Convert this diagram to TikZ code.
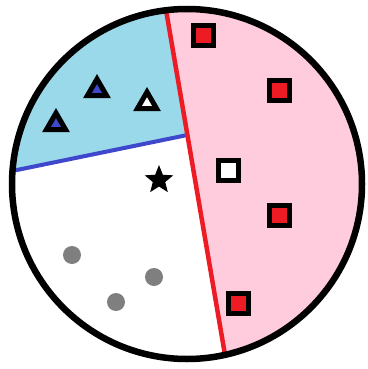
\documentclass[tikz,border=0pt]{standalone}
\usepackage{xcolor}
\usepackage{tikz}
\usetikzlibrary{shapes.geometric}

\definecolor{zonepink}{RGB}{255,204,221}
\definecolor{zoneblue}{RGB}{153,217,234}
\definecolor{markred}{RGB}{237,28,36}
\definecolor{markblue}{RGB}{63,72,204}
\definecolor{markgray}{RGB}{127,127,127}

\begin{document}
\begin{tikzpicture}[
    x=1pt, y=-1pt,
    every node/.style={inner sep=0pt, line width=5pt},
    redbox/.style={rectangle, draw, fill=markred, minimum size=20pt},
    tri/.style={regular polygon, regular polygon sides=3, draw, fill=markblue, minimum size=22pt},
    dot/.style={circle, fill=markgray, minimum size=18pt},
  ]

  \useasboundingbox (0,0) rectangle (367,369);

  \coordinate (o) at (187,184);
  \coordinate (rtop) at (160.9,-20);
  \coordinate (rbot) at (231,390);
  \coordinate (bleft) at (-20,177.6);
  \coordinate (bmid) at (187.4,135);

  % zones
  \begin{scope}
    \clip (o) circle (175);
    \fill[zonepink] (rtop) -- (400,-20) -- (400,390) -- (rbot) -- cycle;
    \fill[zoneblue] (bleft) -- (bmid) -- (rtop) -- (-20,-20) -- cycle;
    \draw[markblue, line width=4pt] (bleft) -- (bmid);
    \draw[markred, line width=4.5pt] (rtop) -- (rbot);
  \end{scope}
  \draw[line width=6.5pt] (o) circle (175);

  % squares
  \node[redbox] (s1) at (203,36)  {};
  \node[redbox] (s2) at (279,90)  {};
  \node[redbox, fill=white] (s3) at (228,170) {};
  \node[redbox] (s4) at (279,215) {};
  \node[redbox] (s5) at (238,303) {};

  % triangles
  \node[tri] (t1) at (56,124)  {};
  \node[tri] (t2) at (97,90)   {};
  \node[tri, fill=white] (t3) at (147,103) {};

  % star and dots
  \node[star, star points=5, star point ratio=2.3, fill=black, minimum size=30pt] (st) at (159,180) {};
  \node[dot] (d1) at (72,255)  {};
  \node[dot] (d2) at (154,277) {};
  \node[dot] (d3) at (116,302) {};

\end{tikzpicture}
\end{document}
